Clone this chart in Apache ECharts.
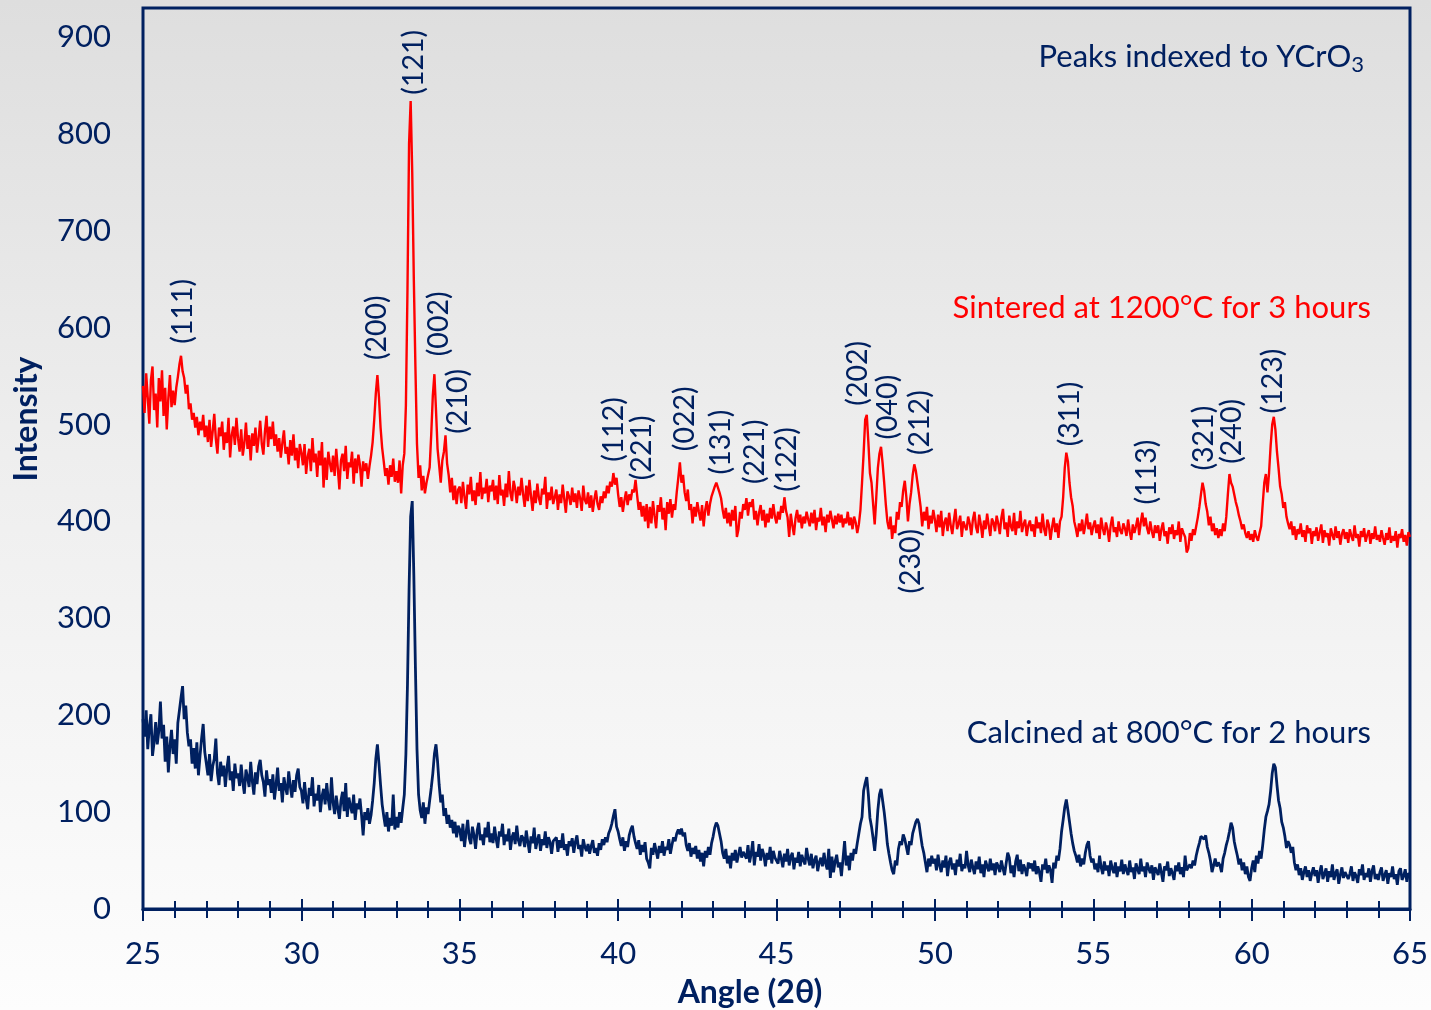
<!DOCTYPE html>
<html><head><meta charset="utf-8">
<script src="https://cdn.jsdelivr.net/npm/echarts@6/dist/echarts.min.js"></script>
<style>
html,body{margin:0;padding:0;}
#c{width:1431px;height:1010px;background:linear-gradient(to bottom,#dedede 0%,#eeeeee 45%,#fdfdfd 100%);}
</style>
</head><body><div id="c"></div>
<script>
const NAVY = '#002060', RED = '#ff0000';
const FONT = 'Lato, "Noto Sans", sans-serif';

// X grid of the scan: 25.00 .. 65.00 deg (2-theta), step 0.05
const angleStart = 25, angleStep = 0.05;
const xTickLabels = [25, 30, 35, 40, 45, 50, 55, 60, 65];
const yTickLabels = [0, 100, 200, 300, 400, 500, 600, 700, 800, 900];

// Sintered at 1200 C for 3 hours (one row per degree, 20 points each)
const sintered = [
540,512,553,528,501,546,560,515,532,497,548,524,556,509,538,495,527,551,518,535,
520,538,549,562,571,555,548,532,541,516,522,505,512,497,508,489,503,494,510,487,
499,482,505,477,493,511,485,470,497,488,503,474,492,481,507,466,489,498,479,507,
486,472,495,468,481,502,475,489,463,491,478,497,471,486,504,480,469,493,509,477,
498,485,503,478,490,472,486,466,481,494,470,477,459,484,468,490,463,476,455,480,
471,458,480,449,467,475,452,486,461,470,446,473,458,482,435,466,443,472,460,451,
468,447,475,455,433,463,470,452,478,444,461,456,472,439,465,450,469,458,436,462,
452,460,444,457,468,482,505,532,551,528,497,476,462,447,455,438,458,446,465,441,
452,440,463,429,458,470,520,640,790,834,760,650,560,480,445,458,432,447,429,440,
438,456,490,530,552,515,475,458,440,463,472,489,460,448,430,445,422,437,418,433,
436,419,441,425,413,438,428,446,421,432,417,440,426,451,423,435,429,444,420,437,
431,443,422,437,418,448,427,433,416,439,425,452,429,421,442,434,419,436,427,445,
428,415,437,421,443,426,411,432,419,439,424,417,434,428,446,413,430,422,436,418,
425,433,412,428,419,438,423,409,431,426,417,435,420,429,414,432,424,411,437,422,
418,430,414,427,410,423,432,418,412,426,419,431,424,437,429,441,436,450,438,445,
428,415,425,410,422,431,417,428,422,433,430,443,427,412,420,405,416,400,418,393,
415,398,421,406,393,417,410,425,402,414,391,420,408,423,404,418,412,430,445,461,
440,448,430,421,433,412,418,398,415,405,420,410,401,417,395,412,421,406,418,426,
428,436,440,438,430,424,412,403,414,398,409,395,412,401,416,384,392,410,403,418,
412,424,406,420,415,423,402,411,396,409,417,401,412,394,408,399,414,403,418,405,
398,410,402,416,409,425,411,404,384,408,396,386,403,412,399,407,393,405,398,410,
402,395,409,398,412,391,404,400,414,396,405,389,407,399,411,402,393,406,397,408,
399,407,394,403,398,410,396,404,392,405,399,388,397,412,440,470,505,510,482,450,
440,418,397,425,455,470,477,460,440,418,400,392,405,382,396,388,410,402,420,415,
432,442,425,400,418,430,448,459,452,440,428,415,395,410,401,415,392,406,398,412,
402,389,407,394,411,385,399,404,390,409,396,387,401,413,392,398,406,384,400,395,
391,405,398,386,402,410,394,388,407,397,383,401,392,408,396,385,403,399,390,406,
398,387,404,413,392,399,384,406,395,390,409,386,400,393,411,389,397,402,385,396,
401,390,397,384,405,393,399,388,408,392,385,402,396,381,394,404,389,398,383,400,
405,425,455,471,462,440,425,416,400,393,384,398,390,402,387,396,408,392,399,386,
395,401,388,397,382,404,393,386,399,392,379,396,405,389,394,384,400,391,387,398,
393,385,402,390,381,397,388,395,404,386,399,409,395,404,393,387,400,390,383,396,
388,396,380,392,399,385,390,377,394,387,397,382,391,386,400,379,393,388,384,368,
372,388,380,392,386,395,404,415,428,440,432,418,410,396,405,390,398,386,393,383,
392,385,398,390,405,428,449,440,436,428,420,414,406,400,392,397,388,383,390,381,
387,379,391,384,380,388,395,418,440,449,430,450,478,500,508,495,472,455,436,428,
414,420,405,398,392,400,386,395,381,392,387,398,384,391,379,396,388,393,377,390,
385,394,380,389,397,378,391,384,388,375,393,386,381,395,383,390,376,387,392,382,
389,378,392,385,380,396,383,387,374,390,384,393,379,386,391,377,388,382,395,381,
386,379,391,383,376,388,381,394,378,385,380,390,373,387,383,392,379,386,375,389,
384
];

// Calcined at 800 C for 2 hours
const calcined = [
196,178,205,165,188,201,158,172,193,170,184,214,176,190,152,178,141,168,185,160,
175,150,192,205,218,230,196,210,182,168,175,150,166,145,172,138,158,176,191,162,
150,138,160,132,147,155,176,140,128,152,137,148,126,145,158,133,142,122,150,135,
140,127,149,131,119,144,136,126,152,132,118,141,129,147,154,138,131,116,143,128,
134,120,139,113,128,146,122,130,110,136,125,118,142,127,115,133,121,138,145,126,
122,109,131,114,103,125,117,136,106,119,112,128,100,116,124,108,130,113,102,136,
110,98,117,104,93,112,121,101,130,95,115,106,99,118,92,109,103,114,97,76,
100,92,104,88,97,112,130,155,170,150,128,108,96,85,100,80,94,86,118,82,
95,84,100,89,104,118,160,232,330,405,421,345,250,165,118,102,94,110,88,105,
98,112,125,140,160,170,152,128,110,118,96,104,88,97,84,92,78,90,74,86,
82,70,88,64,79,92,73,67,85,76,62,81,89,71,77,66,84,74,90,69,
78,68,85,72,63,80,75,88,66,77,70,83,61,74,79,67,86,71,65,76,
73,64,81,69,58,75,68,84,62,71,77,60,72,66,80,63,74,69,57,70,
68,74,59,71,63,78,61,67,55,70,65,73,58,69,76,62,66,54,72,64,
60,67,57,65,71,58,63,55,68,61,72,66,74,69,78,82,88,96,103,85,
80,72,65,74,60,70,64,76,82,86,75,68,62,71,56,66,59,69,52,48,
42,63,56,68,60,52,65,58,70,55,64,61,72,57,66,74,70,78,82,77,
83,75,79,66,60,68,54,63,57,65,52,61,49,58,44,60,53,64,56,68,
75,84,89,86,78,70,58,52,62,47,55,42,58,50,61,48,56,64,53,59,
61,52,66,48,57,70,45,59,54,67,50,62,56,44,58,51,64,47,60,53,
55,47,60,52,43,57,49,62,45,54,58,41,53,48,59,44,56,50,46,63,
52,45,57,42,50,55,39,48,53,44,58,47,41,62,32,54,38,49,56,43,
48,34,52,70,45,55,40,58,50,62,57,68,78,88,95,122,130,136,118,94,
85,73,60,78,102,118,124,112,100,85,67,57,48,40,36,50,45,62,70,66,
77,72,64,56,70,66,78,84,90,93,88,76,65,58,48,38,52,44,55,47,
52,40,56,45,38,50,43,55,34,48,53,41,47,35,51,44,57,39,46,42,
60,45,38,51,43,36,49,41,54,37,46,33,50,44,39,52,40,47,35,48,
44,38,50,42,35,47,58,53,37,45,33,49,56,39,51,36,46,41,34,48,
42,47,39,50,36,44,38,28,46,41,52,37,45,40,27,48,42,55,50,62,
80,92,105,113,102,90,78,68,60,55,48,56,44,52,46,58,66,70,55,48,
52,41,47,38,55,43,36,49,40,45,34,50,42,37,48,33,44,39,51,36,
46,40,35,50,38,43,31,47,41,36,52,39,44,33,48,42,37,45,30,43,
41,35,47,38,28,44,40,49,34,42,37,30,45,39,48,36,43,33,55,40,
38,46,42,50,45,55,62,68,75,77,72,76,64,58,50,38,45,52,44,48,
45,38,52,58,66,72,80,89,84,70,62,55,46,52,40,48,36,44,33,29,
42,50,38,55,47,60,52,66,82,95,101,108,122,140,150,146,128,112,104,90,
84,75,63,70,66,58,64,48,40,46,35,42,30,38,44,33,40,29,37,43,
34,40,27,38,45,31,36,42,28,39,33,46,30,37,41,26,35,43,32,38,
40,31,36,44,29,38,34,27,41,35,46,30,37,33,42,28,39,45,31,36,
30,38,43,29,35,40,26,37,33,44,31,36,25,39,42,30,34,41,28,37,
35
];

const seriesNames = ['Sintered at 1200°C for 3 hours', 'Calcined at 800°C for 2 hours'];

// Miller-index labels: [text, angle, intensity at label centre]
const hklLabels = [
  ['(111)', 26.26, 617], ['(200)', 32.39, 600], ['(121)', 33.56, 874],
  ['(002)', 34.34, 604], ['(210)', 34.94, 524], ['(112)', 39.87, 495],
  ['(221)', 40.75, 476], ['(022)', 42.11, 506], ['(131)', 43.25, 482],
  ['(221)', 44.32, 472], ['(122)', 45.33, 464], ['(202)', 47.57, 553],
  ['(040)', 48.52, 518], ['(212)', 49.53, 502], ['(230)', 49.25, 359],
  ['(311)', 54.27, 511], ['(113)', 56.70, 451], ['(321)', 58.50, 486],
  ['(240)', 59.38, 493], ['(123)', 60.67, 545]
];

function pairs(vals) {
  return vals.map((v, i) => [Math.round((angleStart + i * angleStep) * 100) / 100, v]);
}

const chart = echarts.init(document.getElementById('c'), null, {renderer: 'canvas'});
const rect = {left: 143, right: 21, top: 8, bottom: 101};

function tickAxis(gi, interval, inside, len) {
  return {
    gridIndex: gi, type: 'value', min: 25, max: 65, interval: interval,
    axisLine: {show: false}, splitLine: {show: false}, axisLabel: {show: false},
    axisTick: {show: true, inside: inside, length: len, lineStyle: {color: NAVY, width: 2}}
  };
}
function hiddenY(gi) {
  return {gridIndex: gi, type: 'value', min: 0, max: 930, show: false};
}

const option = {
  animation: false,
  grid: [
    Object.assign({show: true, borderColor: NAVY, borderWidth: 3, backgroundColor: 'transparent'}, rect),
    Object.assign({}, rect), Object.assign({}, rect), Object.assign({}, rect)
  ],
  xAxis: [
    {
      gridIndex: 0, type: 'value', min: 25, max: 65, interval: 1,
      axisLine: {show: true, lineStyle: {color: NAVY, width: 3}},
      axisTick: {show: true, inside: true, length: 8, lineStyle: {color: NAVY, width: 2}},
      splitLine: {show: false},
      axisLabel: {
        margin: 29, color: NAVY, fontSize: 31, fontFamily: FONT,
        formatter: v => (xTickLabels.indexOf(v) >= 0 ? String(v) : '')
      }
    },
    tickAxis(1, 1, false, 9),
    tickAxis(2, 5, true, 10),
    tickAxis(3, 5, false, 12)
  ],
  yAxis: [
    {
      gridIndex: 0, type: 'value', min: 0, max: 930, interval: 100,
      axisLine: {show: false}, axisTick: {show: false}, splitLine: {show: false},
      axisLabel: {
        margin: 32, color: NAVY, fontSize: 31, fontFamily: FONT, showMaxLabel: false,
        formatter: v => (yTickLabels.indexOf(v) >= 0 ? String(v) : '')
      }
    },
    hiddenY(1), hiddenY(2), hiddenY(3)
  ],
  series: [
    {
      name: seriesNames[1], type: 'line', xAxisIndex: 0, yAxisIndex: 0,
      data: pairs(calcined), symbol: 'none',
      lineStyle: {color: NAVY, width: 2.8}, z: 2
    },
    {
      name: seriesNames[0], type: 'line', xAxisIndex: 0, yAxisIndex: 0,
      data: pairs(sintered), symbol: 'none',
      lineStyle: {color: RED, width: 2.4}, z: 3
    }
  ]
};
chart.setOption(option);

const graphics = [];
hklLabels.forEach(([t, a, v]) => {
  const p = chart.convertToPixel({gridIndex: 0}, [a, v]);
  graphics.push({
    type: 'text', x: p[0], y: p[1], rotation: Math.PI / 2, z: 10,
    style: {text: t, fill: NAVY, fontSize: 28.5, fontFamily: FONT, textAlign: 'center', textVerticalAlign: 'middle'}
  });
});
graphics.push(
  {type: 'text', x: 1371, y: 308, z: 10,
   style: {text: seriesNames[0], fill: RED, fontSize: 31, fontFamily: FONT, textAlign: 'right', textVerticalAlign: 'middle'}},
  {type: 'text', x: 1371, y: 733, z: 10,
   style: {text: seriesNames[1], fill: NAVY, fontSize: 31, fontFamily: FONT, textAlign: 'right', textVerticalAlign: 'middle'}},
  {type: 'text', x: 1364, y: 57, z: 10,
   style: {text: '{a|Peaks indexed to YCrO}{s|3}', textAlign: 'right', textVerticalAlign: 'middle',
     rich: {
       a: {fill: NAVY, fontSize: 31, fontFamily: FONT, lineHeight: 38},
       s: {fill: NAVY, fontSize: 22, fontFamily: FONT, lineHeight: 17, verticalAlign: 'bottom'}
     }}},
  {type: 'text', x: 27, y: 419, rotation: Math.PI / 2, z: 10,
   style: {text: 'Intensity', fill: NAVY, fontSize: 32, fontWeight: 'bold', fontFamily: FONT, textAlign: 'center', textVerticalAlign: 'middle'}},
  {type: 'text', x: 750, y: 993, z: 10,
   style: {text: 'Angle (2θ)', fill: NAVY, fontSize: 32, fontWeight: 'bold', fontFamily: FONT, textAlign: 'center', textVerticalAlign: 'middle'}}
);
chart.setOption({graphic: graphics});
</script>
</body></html>
